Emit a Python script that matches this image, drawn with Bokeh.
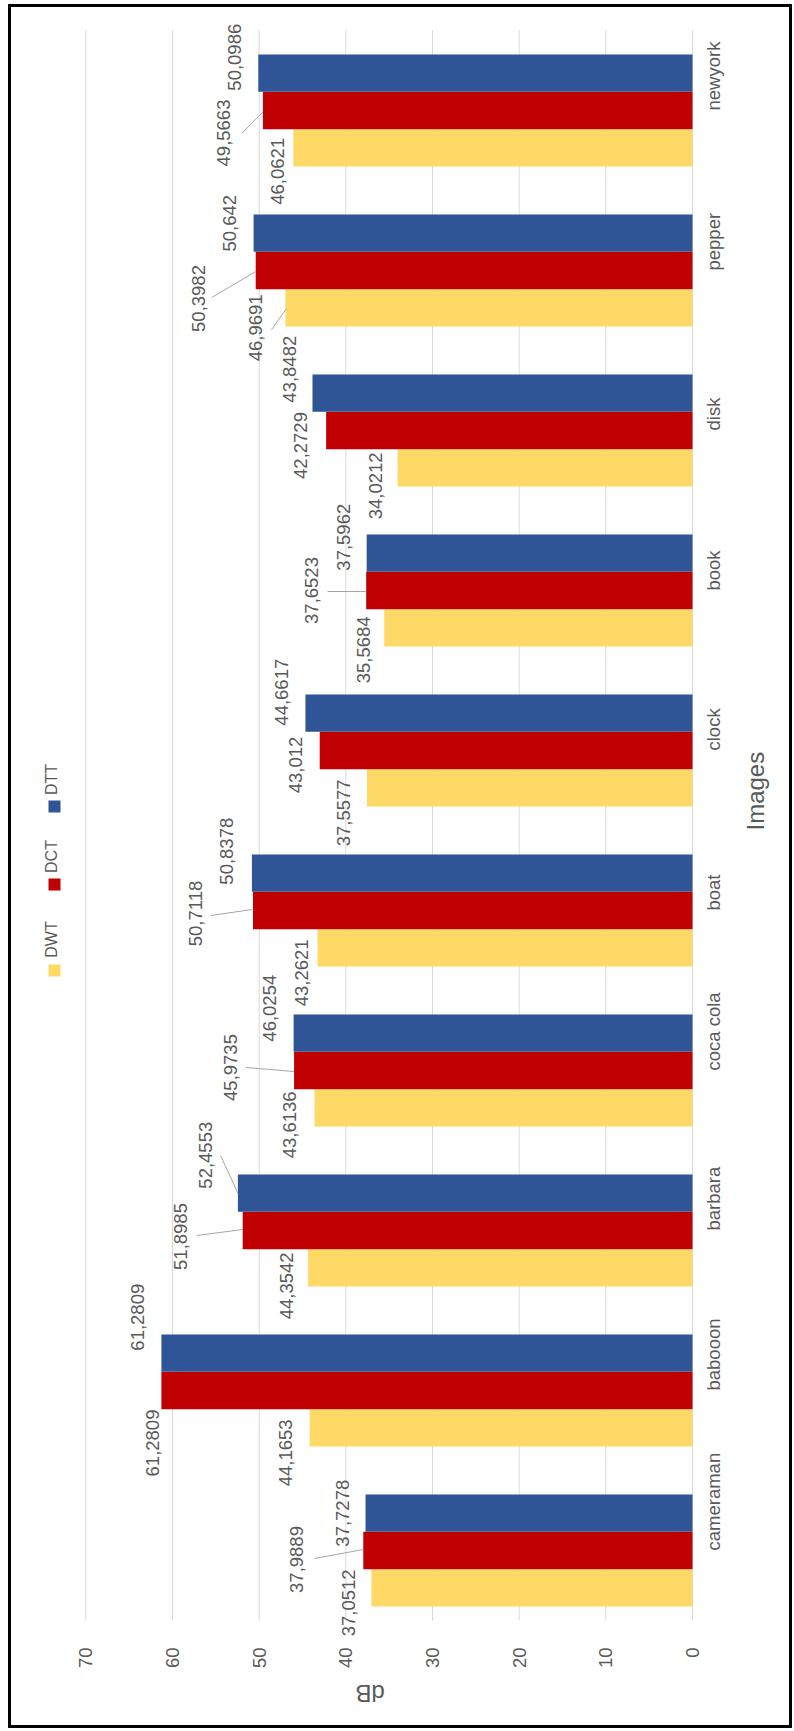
import math

from bokeh.core.properties import value
from bokeh.embed import file_html
from bokeh.models import ColumnDataSource, FactorRange, FixedTicker, Range1d
from bokeh.plotting import figure
from bokeh.resources import INLINE
from bokeh.transform import dodge

# ---- data -----------------------------------------------------------------
images = ["cameraman", "babooon", "barbara", "coca cola", "boat",
          "clock", "book", "disk", "pepper", "newyork"]
series = ["DWT", "DCT", "DTT"]
dwt = [37.0512, 44.1653, 44.3542, 43.6136, 43.2621, 37.5577, 35.5684, 34.0212, 46.9691, 46.0621]
dct = [37.9889, 61.2809, 51.8985, 45.9735, 50.7118, 43.012, 37.6523, 42.2729, 50.3982, 49.5663]
dtt = [37.7278, 61.2809, 52.4553, 46.0254, 50.8378, 44.6617, 37.5962, 43.8482, 50.642, 50.0986]
value_ticks = [0, 10, 20, 30, 40, 50, 60, 70]

# ---- layout ---------------------------------------------------------------
W, H = 794, 1731
CAT_PX = 160.0                       # pixels per image group
Y_PAD = 0.05                         # extra room above/below the groups
FRAME_T = 30 - Y_PAD * CAT_PX        # 22
FRAME_B = 1630 + Y_PAD * CAT_PX      # 1638
FRAME_L, FRAME_R = 16, 694
X_START = 78
PPU_X = 676 / 78.0                   # pixels per dB
X_END = -(FRAME_R - FRAME_L) / PPU_X + X_START

BAR_H = 0.233
OFFSETS = {"DWT": -0.233, "DCT": 0.0, "DTT": 0.233}
COLORS = {"DWT": "#FFD966", "DCT": "#C00000", "DTT": "#2F5597"}
TEXT_GRAY = "#595959"
GRID_GRAY = "#D9D9D9"
FONT = "Liberation Sans"

# label nudges in pixels (dx from bar end, dy downward from bar centre)
label_dx = {
    "DWT": [-23, -24, -21.5, -25, -16, -23, -20.6, -22, -30, -15.6],
    "DCT": [-66.6, -9, -62.5, -63.5, -57.5, -24, -54.6, -26, -57, -39],
    "DTT": [-23, -24, -32, -24, -25, -24, -23, -23, -24, -24],
}
label_dy = {
    "DWT": [15, 25, 18, 17, 25, 25, 22, 18, 20, 23.5],
    "DCT": [9, 52.5, 6, -3, 3, 14.5, 0, 15, 28, 22.5],
    "DTT": [0, -36, -38, -25, -22, -21, -16, -24, -10, -16],
}
# leader lines: (series, image, start dx, start dy, end dx, end dy) in pixels
leaders = [
    ("DCT", "newyork", -21, 22.5, 0, 1.5),
    ("DCT", "pepper", -44, 27, 0, 1),
    ("DWT", "pepper", -14, 22, 1, 1),
    ("DCT", "book", -38.6, 1, 0, 1),
    ("DCT", "boat", -42, 5, -1, -1),
    ("DCT", "coca cola", -48, -3, 0, 1),
    ("DTT", "barbara", -17, -37, 0, 0),
    ("DCT", "barbara", -46, 5, 0, -1),
    ("DCT", "cameraman", -48.6, 8, 0, -1),
]


def px_x(px):
    return X_START - (px - FRAME_L) / PPU_X


def px_y(py):
    return (1630 - py) / CAT_PX


values = {"DWT": dwt, "DCT": dct, "DTT": dtt}

# thin black frame around the whole chart, painted behind a transparent canvas
frame_css = {
    "background-color": "white",
    "background-image": ", ".join(["linear-gradient(#000, #000)"] * 4),
    "background-position": "8px 4px, 789px 4px, 8px 4px, 8px 1725px",
    "background-size": "3px 1724px, 3px 1724px, 784px 3px, 784px 3px",
    "background-repeat": "no-repeat",
}

p = figure(
    width=W, height=H,
    x_range=Range1d(X_START, X_END),
    y_range=FactorRange(*images, range_padding=Y_PAD, range_padding_units="absolute"),
    y_axis_location="right",
    min_border_left=FRAME_L, min_border_right=int(W - FRAME_R),
    min_border_top=int(FRAME_T), min_border_bottom=int(H - FRAME_B),
    output_backend="svg", toolbar_location=None,
    styles=frame_css,
)
p.outline_line_color = None
p.background_fill_color = "white"
p.border_fill_color = None

# vertical grid lines, spanning only the group area
p.segment(x0=value_ticks, x1=value_ticks,
          y0=[px_y(1620)] * len(value_ticks), y1=[px_y(30)] * len(value_ticks),
          line_color=GRID_GRAY, line_width=1)

# bars and value labels
for s in series:
    src = ColumnDataSource(dict(
        img=images,
        v=values[s],
        txt=[str(v).replace(".", ",") for v in values[s]],
        dx=label_dx[s],
        dy=label_dy[s],
    ))
    p.hbar(y=dodge("img", OFFSETS[s], range=p.y_range), right="v", left=0,
           height=BAR_H, source=src, fill_color=COLORS[s], line_color=None)
    p.text(x="v", y=dodge("img", OFFSETS[s], range=p.y_range), text="txt",
           x_offset="dx", y_offset="dy", source=src, angle=math.pi / 2,
           text_align="center", text_baseline="middle",
           text_font=value(FONT), text_font_size="18.5px", text_color=TEXT_GRAY)

# leader lines from moved labels back to their bars
x0, y0, x1, y1 = [], [], [], []
for s, img, sdx, sdy, edx, edy in leaders:
    i = images.index(img)
    v = values[s][i]
    yc = i + 0.5 + OFFSETS[s]
    x0.append(v - sdx / PPU_X)
    y0.append(yc - sdy / CAT_PX)
    x1.append(v - edx / PPU_X)
    y1.append(yc - edy / CAT_PX)
p.segment(x0=x0, y0=y0, x1=x1, y1=y1, line_color="#A6A6A6", line_width=1)

# legend (drawn rotated, like the rest of the chart)
leg_sq_y = {"DTT": 806, "DCT": 884, "DWT": 970}
leg_tx_y = {"DTT": 779, "DCT": 856, "DWT": 939}
for s in series:
    p.scatter(x=[px_x(54)], y=[px_y(leg_sq_y[s])], marker="square", size=12,
              fill_color=COLORS[s], line_color=None)
    p.text(x=[px_x(51)], y=[px_y(leg_tx_y[s])], text=[s], angle=math.pi / 2,
           text_align="center", text_baseline="middle",
           text_font=value(FONT), text_font_size="16px", text_color=TEXT_GRAY)

# value axis (bottom); bounded to 0-70 so its title centres on that span
xa = p.xaxis[0]
xa.ticker = FixedTicker(ticks=value_ticks)
xa.bounds = (0, 70)
xa.axis_line_color = None
xa.major_tick_line_color = None
xa.minor_tick_line_color = None
xa.major_label_orientation = math.pi / 2
xa.major_label_standoff = 3
xa.major_label_text_font = FONT
xa.major_label_text_font_size = "18.5px"
xa.major_label_text_color = TEXT_GRAY
xa.axis_label = "dB"
xa.axis_label_orientation = math.pi
xa.axis_label_standoff = 22
xa.axis_label_text_font = FONT
xa.axis_label_text_font_size = "24px"
xa.axis_label_text_font_style = "normal"
xa.axis_label_text_color = TEXT_GRAY

p.xgrid.grid_line_color = None
p.ygrid.grid_line_color = None

# category axis (right)
ya = p.yaxis[0]
ya.axis_line_color = None
ya.major_tick_line_color = None
ya.minor_tick_line_color = None
ya.major_label_orientation = math.pi / 2
ya.major_label_standoff = 13
ya.major_label_text_font = FONT
ya.major_label_text_font_size = "18.5px"
ya.major_label_text_color = TEXT_GRAY
ya.axis_label = "Images"
ya.axis_label_orientation = math.pi / 2
ya.axis_label_standoff = 18
ya.axis_label_text_font = FONT
ya.axis_label_text_font_size = "24px"
ya.axis_label_text_font_style = "normal"
ya.axis_label_text_color = TEXT_GRAY

open("out.html", "w").write(file_html(p, INLINE))
